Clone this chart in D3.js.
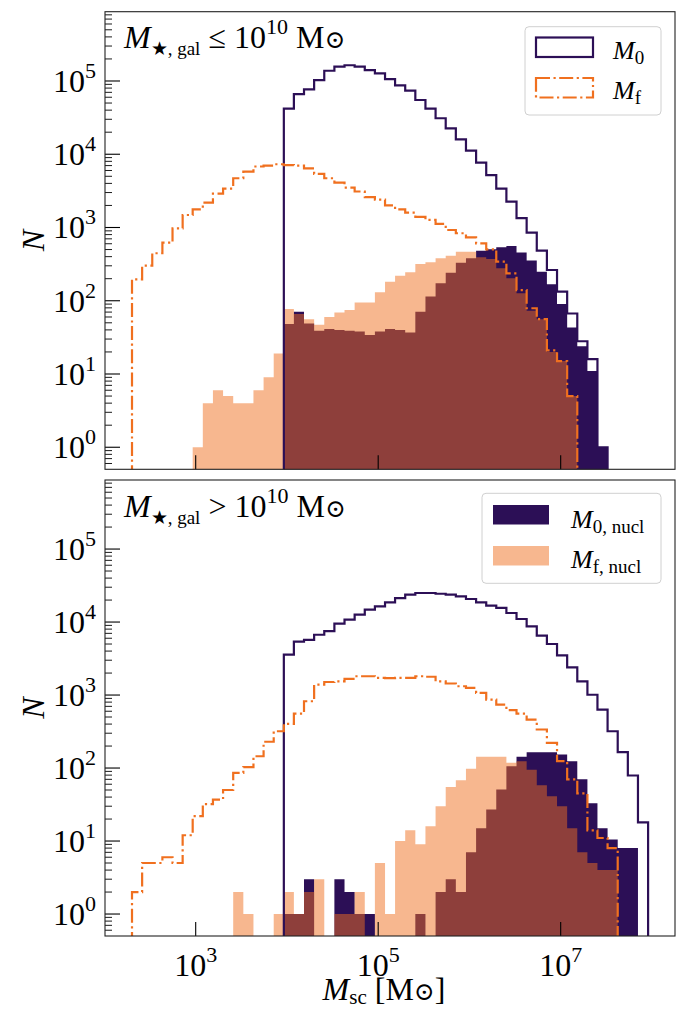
<!DOCTYPE html>
<html><head><meta charset="utf-8">
<script src="https://cdn.jsdelivr.net/npm/d3@7"></script>
<style>
body{margin:0;background:#fff}
svg{display:block}
text{font-family:"Liberation Serif","DejaVu Serif",serif;fill:#000}
</style>
</head><body>
<svg id="chart" width="682" height="1010"></svg>
<script>
// ---------------- DATA ----------------
// log10 of the histogram bin edges (M_sc in Msun)
const binEdgesLog10 = [2.302,2.413,2.524,2.635,2.746,2.857,2.967,3.078,3.189,3.300,
  3.411,3.522,3.633,3.744,3.855,3.966,4.076,4.187,4.298,4.409,
  4.520,4.631,4.742,4.853,4.964,5.075,5.185,5.296,5.407,5.518,
  5.629,5.740,5.851,5.962,6.073,6.184,6.294,6.405,6.516,6.627,
  6.738,6.849,6.960,7.071,7.182,7.293,7.403,7.514,7.625,7.736,
  7.847,7.958];

// Panel 1: M*,gal <= 1e10 Msun
const lowM0 = [0,0,0,0,0,0,0,0,0,0,
  0,0,0,0,0,42000,66000,77000,103000,138000,
  157000,164000,157000,141000,127000,106000,87000,74000,55000,42000,
  31000,22600,16000,11200,7700,5200,3400,2250,1340,850,
  483,263,133,67,28,16,1,0,0,0,0];
const lowMf = [196,301,445,621,975,1480,1770,2180,2900,3400,
  4700,5800,6800,7000,7300,7100,7000,6400,5400,4700,
  4100,3500,3100,2600,2400,2000,1770,1600,1400,1270,
  1120,925,834,735,608,504,342,237,140,79,
  56,21,15,5,0,0,0,0,0,0,0];
const lowM0nucl = [0,0,0,0,0,0,0,0,0,0,
  0,0,0,0,0,48,71,49,39,41,
  40,39,38,34,38,41,40,37,71,114,
  173,242,331,380,483,504,537,560,454,353,
  249,168,90,43,24,11,1,0,0,0,0];
const lowMfnucl = [0,0,0,0,0,0,1,4,6,5,
  4,4,6,9,19,77,66,56,47,60,
  69,75,95,95,131,182,220,245,318,335,
  380,413,468,468,393,372,277,203,127,73,
  56,20,15,5,0,0,0,0,0,0,0];

// Panel 2: M*,gal > 1e10 Msun
const highM0 = [0,0,0,0,0,0,0,0,0,0,
  0,0,0,0,0,3580,5400,5700,6700,7500,
  9500,10800,12600,14800,16400,18600,21300,23700,25000,25000,
  24400,23700,22500,20700,18600,16800,15600,13300,11000,8700,
  6500,5000,3500,2400,1540,1010,632,319,165,79,18];
const highMf = [2,5,5,6,5,12,22,32,37,50,
  86,103,145,229,319,403,557,822,1390,1510,
  1540,1660,1810,1810,1720,1700,1720,1720,1810,1780,
  1540,1440,1320,1250,1070,866,741,620,557,461,
  337,221,124,70,45,14,11,8,0,0,0];
const highM0nucl = [0,0,0,0,0,0,0,0,0,0,
  0,0,0,0,0,1,1,3,0,0,
  3,2,1,1,0,0,0,0,1,0,
  2,3,2,7,15,27,51,106,143,165,
  165,165,153,124,70,33,15,10.5,8,8,0];
const highMfnucl = [0,0,0,0,0,0,0,0,0,0,
  2,1,0,0,1,2,1,2,3,0,
  1,1,2,0,5,1,10,14,9,16,
  30,55,68,98,143,143,143,118,124,95,
  58,41,30,15,7,5,4,4,0,0,0];

const xDomain = [1.014e2, 1.79e8];
const yDomain = [0.5, 8.83e5];
const xTickValues = [1e3, 1e5, 1e7];
const xTickExps = ["3", "5", "7"];
const yTickValues = [1, 10, 100, 1e3, 1e4, 1e5];
const yTickExps = ["0", "1", "2", "3", "4", "5"];

// ---------------- STYLE / LAYOUT ----------------
const purple = "#2c0f56";
const orange = "#f0701f";
const X0 = 105, X1 = 675;
const panelBoxes = [{top: 11.7, bottom: 469.3}, {top: 480, bottom: 936}];

const svg = d3.select("#chart");
const x = d3.scaleLog().domain(xDomain).range([X0, X1]);
const edges = binEdgesLog10.map(e => Math.pow(10, e));

function binPoints(vals) {
  const pts = [];
  vals.forEach((v, i) => { pts.push({x: edges[i], v}); pts.push({x: edges[i + 1], v}); });
  return pts;
}

const panelsData = [
  {M0: lowM0, Mf: lowMf, M0n: lowM0nucl, Mfn: lowMfnucl, rel: "\u2264"},
  {M0: highM0, Mf: highMf, M0n: highM0nucl, Mfn: highMfnucl, rel: ">"}
];

panelsData.forEach((pd, pi) => {
  const box = panelBoxes[pi];
  const y = d3.scaleLog().domain(yDomain).range([box.bottom, box.top]);
  const below = box.bottom + 10;
  const g = svg.append("g");
  const clipId = "clip" + pi;
  svg.append("clipPath").attr("id", clipId).append("rect")
    .attr("x", X0).attr("y", box.top).attr("width", X1 - X0).attr("height", box.bottom - box.top);
  const plot = g.append("g").attr("clip-path", `url(#${clipId})`);

  const area = d3.area().defined(d => d.v > 0)
    .x(d => x(d.x)).y0(below).y1(d => y(d.v));
  const line = d3.line().x(d => x(d.x)).y(d => d.v > 0 ? y(d.v) : below);

  plot.append("path").attr("d", area(binPoints(pd.M0n))).attr("fill", purple);
  plot.append("path").attr("d", area(binPoints(pd.Mfn))).attr("fill", orange).attr("fill-opacity", 0.5);

  const lp = (vals) => {
    const p = binPoints(vals);
    return [{x: edges[0], v: 0}, ...p, {x: edges[edges.length - 1], v: 0}];
  };
  plot.append("path").attr("d", line(lp(pd.M0))).attr("fill", "none")
    .attr("stroke", purple).attr("stroke-width", 2.2).attr("stroke-linejoin", "miter");
  plot.append("path").attr("d", line(lp(pd.Mf))).attr("fill", "none")
    .attr("stroke", orange).attr("stroke-width", 2.2).attr("stroke-dasharray", "14,3.5,2.2,3.5");

  // y ticks
  const minor = [];
  for (let d = -1; d <= 5; d++) for (let k = 2; k <= 9; k++) {
    const v = k * Math.pow(10, d);
    if (v > yDomain[0] && v < yDomain[1]) minor.push(v);
  }
  g.selectAll(".ymin").data(minor).join("line")
    .attr("x1", X0).attr("x2", X0 + 7).attr("y1", d => y(d)).attr("y2", d => y(d))
    .attr("stroke", "#000").attr("stroke-width", 0.9);
  g.selectAll(".ymaj").data(yTickValues).join("line")
    .attr("x1", X0).attr("x2", X0 + 15).attr("y1", d => y(d)).attr("y2", d => y(d))
    .attr("stroke", "#000").attr("stroke-width", 1.1);
  const yl = g.selectAll(".ylab").data(yTickValues).join("text")
    .attr("x", 96).attr("y", d => y(d) + 11).attr("text-anchor", "end").attr("font-size", 32);
  yl.append("tspan").text("10");
  yl.append("tspan").attr("font-size", 22).attr("dy", -14).text((d, i) => yTickExps[i]);

  // x ticks
  g.selectAll(".xmaj").data(xTickValues).join("line")
    .attr("x1", d => x(d)).attr("x2", d => x(d)).attr("y1", box.bottom).attr("y2", box.bottom - 14)
    .attr("stroke", "#000").attr("stroke-width", 1.1);
  if (pi === 1) {
    const xl = g.selectAll(".xlab").data(xTickValues).join("text")
      .attr("x", d => x(d)).attr("y", box.bottom + 40).attr("text-anchor", "middle").attr("font-size", 32);
    xl.append("tspan").text("10");
    xl.append("tspan").attr("font-size", 22).attr("dy", -14).text((d, i) => xTickExps[i]);
  }

  // frame
  g.append("rect").attr("x", X0).attr("y", box.top).attr("width", X1 - X0).attr("height", box.bottom - box.top)
    .attr("fill", "none").attr("stroke", "#222").attr("stroke-width", 1.1);

  // panel title
  const t = g.append("text").attr("x", 124).attr("y", box.top + 36.5).attr("font-size", 32);
  t.append("tspan").attr("font-style", "italic").text("M");
  t.append("tspan").attr("font-size", 19).attr("dy", 7).text("\u2605, gal");
  t.append("tspan").attr("dy", -7).text(" " + pd.rel + " 10");
  t.append("tspan").attr("font-size", 22).attr("dy", -14).text("10");
  t.append("tspan").attr("dy", 14).text(" M");
  t.append("tspan").attr("font-size", 25).text("\u2299");

  // y label
  g.append("text").attr("transform", `translate(44,${(box.top + box.bottom) / 2}) rotate(-90)`)
    .attr("text-anchor", "middle").attr("font-size", 32).attr("font-style", "italic").text("N");
});

// legends
function legend(box, entries, labX) {
  const lg = svg.append("g");
  lg.append("rect").attr("x", box.x).attr("y", box.y).attr("width", box.w).attr("height", box.h)
    .attr("rx", 4).attr("fill", "#fff").attr("fill-opacity", 0.8).attr("stroke", "#d0d0d0").attr("stroke-width", 1);
  entries.forEach(e => {
    const r = lg.append("rect").attr("x", e.px).attr("y", e.py).attr("width", e.pw).attr("height", e.ph);
    if (e.type === "solid") r.attr("fill", "none").attr("stroke", purple).attr("stroke-width", 2.2);
    if (e.type === "dash") r.attr("fill", "none").attr("stroke", orange).attr("stroke-width", 2.2).attr("stroke-dasharray", "14,3.5,2.2,3.5");
    if (e.type === "fillP") r.attr("fill", purple);
    if (e.type === "fillO") r.attr("fill", orange).attr("fill-opacity", 0.5);
    const t = lg.append("text").attr("x", labX).attr("y", e.base).attr("font-size", 26);
    t.append("tspan").attr("font-style", "italic").text("M");
    t.append("tspan").attr("font-size", 19).attr("dy", 5).text(e.sub);
  });
}
legend({x: 525, y: 26.7, w: 136, h: 88.3}, [
  {type: "solid", px: 536, py: 37.5, pw: 57, ph: 19.5, base: 58.5, sub: "0"},
  {type: "dash", px: 536, py: 78, pw: 57, ph: 19.5, base: 99, sub: "f"}
], 613);
legend({x: 482, y: 493.3, w: 179, h: 90}, [
  {type: "fillP", px: 493, py: 505, pw: 56, ph: 19.5, base: 528.3, sub: "0, nucl"},
  {type: "fillO", px: 493, py: 546, pw: 56, ph: 19.5, base: 568.3, sub: "f, nucl"}
], 571);

// x label
const xt = svg.append("text").attr("x", 384).attr("y", 1000).attr("text-anchor", "middle").attr("font-size", 32);
xt.append("tspan").attr("font-style", "italic").text("M");
xt.append("tspan").attr("font-size", 21).attr("dy", 4).text("sc");
xt.append("tspan").attr("dy", -4).text(" [M");
xt.append("tspan").attr("font-size", 25).text("\u2299");
xt.append("tspan").text("]");
</script>
</body></html>
